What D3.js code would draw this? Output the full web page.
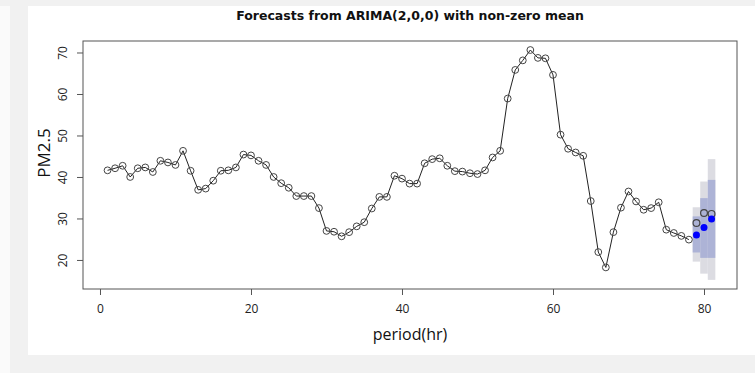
<!DOCTYPE html>
<html>
<head>
<meta charset="utf-8">
<script src="https://cdn.jsdelivr.net/npm/d3@7"></script>
<style>
  html, body { margin: 0; padding: 0; background: #fafafa; }
  svg { display: block; }
</style>
</head>
<body>
<svg id="chart" width="755" height="373"></svg>
<script>
// observed PM2.5, hours 1..78
const observed = [41.6, 42.1, 42.7, 40.0, 42.1, 42.3, 41.2, 43.9, 43.5, 42.9,
  46.3, 41.5, 36.9, 37.2, 39.1, 41.5, 41.6, 42.3, 45.4, 45.2,
  43.9, 42.9, 40.0, 38.5, 37.4, 35.4, 35.4, 35.4, 32.5, 27.0,
  26.8, 25.7, 26.7, 28.1, 29.1, 32.4, 35.2, 35.2, 40.3, 39.6,
  38.4, 38.4, 43.3, 44.3, 44.5, 42.7, 41.4, 41.3, 40.9, 40.7,
  41.6, 44.7, 46.3, 58.9, 65.8, 68.1, 70.6, 68.7, 68.6, 64.6,
  50.2, 46.8, 45.9, 45.1, 34.2, 21.9, 18.2, 26.7, 32.6, 36.5,
  34.1, 32.1, 32.5, 33.9, 27.3, 26.5, 25.8, 24.9];

// forecast horizon 79..81
const fcPeriods = [79, 80, 81];
const fcMean = [26.0, 27.8, 29.9];
const lo80 = [21.8, 20.5, 20.5];
const hi80 = [30.5, 34.9, 39.3];
const lo95 = [19.6, 16.7, 15.2];
const hi95 = [32.7, 38.9, 44.3];
const actual = [28.9, 31.3, 31.1];

const xTicks = [0, 20, 40, 60, 80];
const yTicks = [20, 30, 40, 50, 60, 70];

const title = "Forecasts from ARIMA(2,0,0) with non-zero mean";
const xLabel = "period(hr)";
const yLabel = "PM2.5";

const svg = d3.select("#chart");

// page frame
svg.append("rect").attr("x", 0).attr("y", 0).attr("width", 755).attr("height", 6).attr("fill", "#f1f1f1");
svg.append("rect").attr("x", 10).attr("y", 6).attr("width", 18).attr("height", 367).attr("fill", "#f1f1f1");
svg.append("rect").attr("x", 10).attr("y", 355).attr("width", 745).attr("height", 18).attr("fill", "#f1f1f1");
svg.append("rect").attr("x", 28).attr("y", 6).attr("width", 727).attr("height", 349).attr("fill", "#ffffff");

const plot = { left: 83, right: 737, top: 41, bottom: 289 };

const x = d3.scaleLinear().domain([-2.25, 84.37]).range([plot.left, plot.right]);
const y = d3.scaleLinear().domain([13.0, 72.77]).range([plot.bottom, plot.top]);

// prediction intervals, one step-column per horizon
const fc = fcPeriods.map((p, i) => ({ p, mean: fcMean[i], lo80: lo80[i], hi80: hi80[i], lo95: lo95[i], hi95: hi95[i], actual: actual[i] }));

svg.append("g").selectAll("rect")
  .data(fc)
  .join("rect")
  .attr("x", d => x(d.p - 0.5))
  .attr("width", d => x(d.p + 0.5) - x(d.p - 0.5))
  .attr("y", d => y(d.hi95))
  .attr("height", d => y(d.lo95) - y(d.hi95))
  .attr("fill", "#dcdce2");

svg.append("g").selectAll("rect")
  .data(fc)
  .join("rect")
  .attr("x", d => x(d.p - 0.5))
  .attr("width", d => x(d.p + 0.5) - x(d.p - 0.5))
  .attr("y", d => y(d.hi80))
  .attr("height", d => y(d.lo80) - y(d.hi80))
  .attr("fill", "#adb3d6");

// observed series
const obs = observed.map((v, i) => ({ t: i + 1, v }));
const line = d3.line().x(d => x(d.t)).y(d => y(d.v));

svg.append("path")
  .datum(obs)
  .attr("d", line)
  .attr("fill", "none")
  .attr("stroke", "#222")
  .attr("stroke-width", 1);

svg.append("g").selectAll("circle")
  .data(obs)
  .join("circle")
  .attr("cx", d => x(d.t))
  .attr("cy", d => y(d.v))
  .attr("r", 3.4)
  .attr("fill", "none")
  .attr("stroke", "#444")
  .attr("stroke-width", 1);

// held-out actuals (open) and point forecasts (blue)
svg.append("g").selectAll("circle")
  .data(fc)
  .join("circle")
  .attr("cx", d => x(d.p))
  .attr("cy", d => y(d.actual))
  .attr("r", 3.4)
  .attr("fill", "none")
  .attr("stroke", "#444")
  .attr("stroke-width", 1.2);

svg.append("g").selectAll("circle")
  .data(fc)
  .join("circle")
  .attr("cx", d => x(d.p))
  .attr("cy", d => y(d.mean))
  .attr("r", 3.5)
  .attr("fill", "#0000ff");

// box
svg.append("rect")
  .attr("x", plot.left).attr("y", plot.top)
  .attr("width", plot.right - plot.left).attr("height", plot.bottom - plot.top)
  .attr("fill", "none").attr("stroke", "#555").attr("stroke-width", 1);

// axes
const xAxis = svg.append("g")
  .attr("transform", `translate(0,${plot.bottom})`)
  .call(d3.axisBottom(x).tickValues(xTicks).tickSize(6).tickPadding(9).tickSizeOuter(0));
xAxis.select(".domain").remove();
xAxis.selectAll("line").attr("stroke", "#555");
xAxis.selectAll("text").attr("fill", "#222").style("font", "12px 'Open Sans', sans-serif");

const yAxis = svg.append("g")
  .attr("transform", `translate(${plot.left},0)`)
  .call(d3.axisLeft(y).tickValues(yTicks).tickSize(6).tickSizeOuter(0));
yAxis.select(".domain").remove();
yAxis.selectAll("line").attr("stroke", "#555");
yAxis.selectAll("text")
  .attr("fill", "#222")
  .style("font", "12px 'Open Sans', sans-serif")
  .attr("text-anchor", "middle")
  .attr("dy", 0)
  .attr("x", 0)
  .attr("transform", "translate(-16,0) rotate(-90)");

// titles
svg.append("text")
  .attr("x", (plot.left + plot.right) / 2)
  .attr("y", 20)
  .attr("text-anchor", "middle")
  .style("font", "bold 12.5px 'DejaVu Sans', sans-serif")
  .attr("fill", "#111")
  .text(title);

svg.append("text")
  .attr("x", (plot.left + plot.right) / 2)
  .attr("y", 340)
  .attr("text-anchor", "middle")
  .style("font", "16px 'Open Sans', sans-serif")
  .attr("fill", "#111")
  .text(xLabel);

svg.append("text")
  .attr("transform", "translate(50,153) rotate(-90)")
  .attr("text-anchor", "middle")
  .style("font", "17px 'Open Sans', sans-serif")
  .attr("fill", "#111")
  .text(yLabel);
</script>
</body>
</html>
